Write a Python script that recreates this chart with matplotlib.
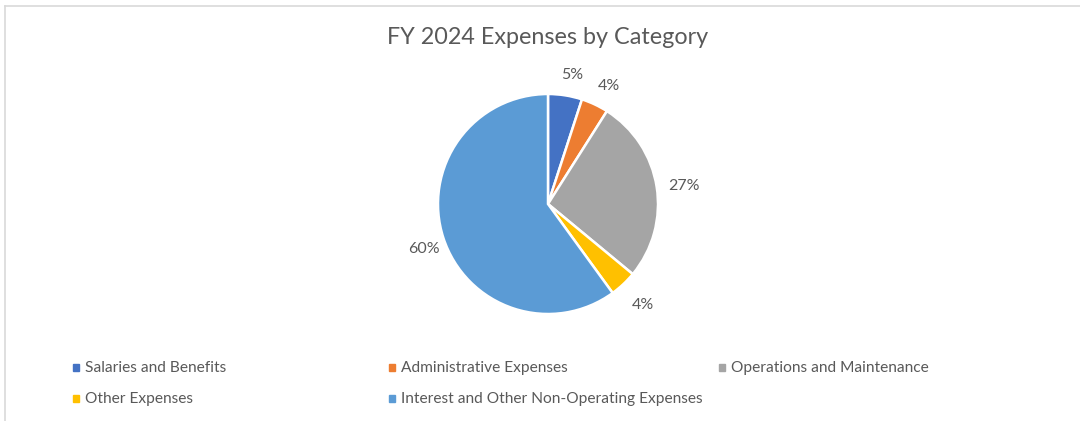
import matplotlib.pyplot as plt
from matplotlib.lines import Line2D
from matplotlib.patches import Rectangle

# data
categories = ["Salaries and Benefits", "Administrative Expenses", "Operations and Maintenance",
              "Other Expenses", "Interest and Other Non-Operating Expenses"]
shares = [5, 4, 27, 4, 60]
colors = ["#4472C4", "#ED7D31", "#A5A5A5", "#FFC000", "#5B9BD5"]

plt.rcParams['font.family'] = ['Lato', 'DejaVu Sans']
text_color = "#595959"

W, H = 1080, 421
fig = plt.figure(figsize=(W / 100, H / 100), dpi=100)

# chart area border (top and left only visible)
fig.add_artist(Line2D([5 / W, 1], [1 - 6 / H, 1 - 6 / H], color="#d9d9d9", lw=1.2))
fig.add_artist(Line2D([5 / W, 5 / W], [0, 1 - 6 / H], color="#d9d9d9", lw=1.2))

# pie, radius ~110 px, centered at (548, 204)
cx, cy, r = 548, 204, 110
side = 2.5 * r
ax = fig.add_axes([(cx - side / 2) / W, 1 - (cy + side / 2) / H, side / W, side / H])
wedges, texts, autotexts = ax.pie(shares, colors=colors, startangle=90, counterclock=False,
                                  autopct='%.0f%%', pctdistance=1.22,
                                  wedgeprops=dict(edgecolor="white", linewidth=1.8),
                                  textprops=dict(color=text_color, fontsize=11.5))
for t in autotexts:
    x, y = t.get_position()
    t.set_position((x + 0.03, y - 0.03))

fig.text(cx / W, 1 - 38 / H, "FY 2024 Expenses by Category", ha="center", va="center",
         fontsize=16.8, color=text_color)

# legend, Excel style grid
col_x = [73, 389, 719]
row_y = [368, 399]
for i, (name, c) in enumerate(zip(categories, colors)):
    x = col_x[i % 3]
    y = row_y[i // 3]
    fig.add_artist(Rectangle((x / W, 1 - (y + 3) / H), 6 / W, 7 / H, color=c,
                             transform=fig.transFigure))
    fig.text((x + 12) / W, 1 - y / H, name, ha="left", va="center", fontsize=11.2,
             color=text_color)

plt.savefig("out.png", dpi=100)
